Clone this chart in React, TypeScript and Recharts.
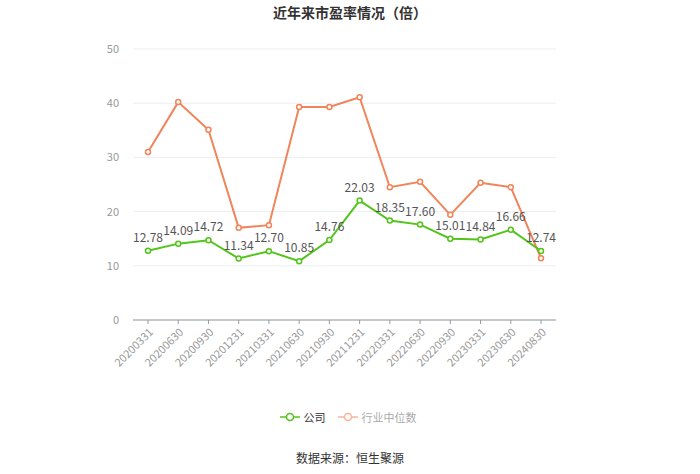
import { LineChart, Line, XAxis, YAxis, CartesianGrid, LabelList } from 'recharts';

const periods = ['20200331', '20200630', '20200930', '20201231', '20210331', '20210630', '20210930', '20211231', '20220331', '20220630', '20220930', '20230331', '20230630', '20240830'];
const company = [12.78, 14.09, 14.72, 11.34, 12.7, 10.85, 14.76, 22.03, 18.35, 17.6, 15.01, 14.84, 16.66, 12.74];
const industry = [31.0, 40.2, 35.1, 17.0, 17.5, 39.3, 39.3, 41.1, 24.5, 25.5, 19.4, 25.3, 24.5, 11.4];
const yTicks = [0, 10, 20, 30, 40, 50];

const GREEN = '#52c41a';
const ORANGE = '#f0845a';
const FONT = '"Noto Sans CJK SC", "Noto Sans", sans-serif';

const data = periods.map((p, i) => ({ period: p, company: company[i], industry: industry[i] }));

const RotTick = (props: any) => {
  const { x, y, payload } = props;
  return (
    <g transform={`translate(${x + 3},${y + 4})`}>
      <text x={0} y={0} dy={4} textAnchor="end" transform="rotate(-45)" fill="#999" fontSize={11} fontFamily={FONT}>
        {payload.value}
      </text>
    </g>
  );
};

function LegendItem({ color, label, textColor }: { color: string; label: string; textColor: string }) {
  return (
    <span style={{ display: 'inline-flex', alignItems: 'center', marginRight: 12 }}>
      <svg width={20} height={12}>
        <line x1={0} y1={6} x2={20} y2={6} stroke={color} strokeWidth={1.5} />
        <circle cx={10} cy={6} r={3.5} fill="#fff" stroke={color} strokeWidth={1.5} />
      </svg>
      <span style={{ marginLeft: 4, fontSize: 11, color: textColor }}>{label}</span>
    </span>
  );
}

export default function App() {
  return (
    <div style={{ position: 'absolute', left: 0, top: 0, width: 700, height: 474, background: '#fff', fontFamily: FONT }}>
      <div style={{ position: 'absolute', top: 2, left: 0, width: 700, textAlign: 'center', fontSize: 14, fontWeight: 'bold', color: '#333' }}>
        近年来市盈率情况（倍）
      </div>
      <LineChart width={700} height={474} data={data} margin={{ top: 49, right: 144, bottom: 94, left: 93 }}>
        <CartesianGrid vertical={false} stroke="#eceef2" />
        <XAxis
          dataKey="period"
          interval={0}
          height={60}
          padding={{ left: 15, right: 15 }}
          tick={<RotTick />}
          axisLine={{ stroke: '#999' }}
          tickLine={{ stroke: '#999' }}
          tickSize={4}
        />
        <YAxis
          width={40}
          domain={[0, 50]}
          ticks={yTicks}
          axisLine={false}
          tickLine={false}
          tick={{ fill: '#999', fontSize: 11, fontFamily: FONT }}
          tickMargin={8}
        />
        <Line
          dataKey="industry"
          stroke={ORANGE}
          strokeWidth={2}
          dot={{ r: 2.5, fill: '#fff', stroke: ORANGE, strokeWidth: 1.5 }}
          isAnimationActive={false}
        />
        <Line
          dataKey="company"
          stroke={GREEN}
          strokeWidth={2}
          dot={{ r: 2.5, fill: '#fff', stroke: GREEN, strokeWidth: 1.5 }}
          isAnimationActive={false}
        >
          <LabelList
            dataKey="company"
            position="top"
            offset={9}
            formatter={(v: any) => Number(v).toFixed(2)}
            style={{ fill: '#555', fontSize: 12, fontFamily: FONT }}
          />
        </Line>
      </LineChart>
      <div style={{ position: 'absolute', top: 409, left: 0, width: 700, display: 'flex', justifyContent: 'center', paddingLeft: 8, boxSizing: 'border-box' }}>
        <LegendItem color={GREEN} label="公司" textColor="#333" />
        <LegendItem color="#f7b597" label="行业中位数" textColor="#aaa" />
      </div>
      <div style={{ position: 'absolute', top: 449, left: 0, width: 700, textAlign: 'center', fontSize: 12, color: '#333' }}>
        数据来源：恒生聚源
      </div>
    </div>
  );
}
